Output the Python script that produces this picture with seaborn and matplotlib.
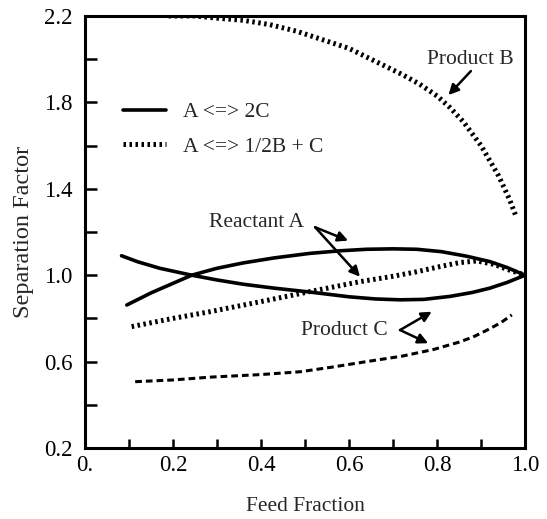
import numpy as np
import pandas as pd
import matplotlib
matplotlib.use("Agg")
import matplotlib.pyplot as plt
import seaborn as sns

# values
# A <=> 1/2B + C, product B (dotted)
prodB_x = [0.19, 0.25, 0.30, 0.36, 0.42, 0.48, 0.54, 0.60, 0.66, 0.72, 0.76, 0.80, 0.83, 0.86, 0.90, 0.94, 0.965, 0.98]
prodB_y = [2.20, 2.20, 2.19, 2.18, 2.16, 2.13, 2.09, 2.05, 1.99, 1.93, 1.885, 1.83, 1.775, 1.71, 1.60, 1.46, 1.35, 1.27]

# A <=> 2C, reactant A (solid)
reacA_2c_x = [0.095, 0.15, 0.2425, 0.30, 0.36, 0.43, 0.511, 0.58, 0.64, 0.70, 0.754, 0.81, 0.867, 0.92, 0.96, 1.0]
reacA_2c_y = [0.862, 0.918, 1.0, 1.032, 1.057, 1.08, 1.101, 1.113, 1.12, 1.122, 1.12, 1.109, 1.088, 1.063, 1.035, 1.0]

# A <=> 2C, product C (solid)
prodC_2c_x = [0.083, 0.12, 0.17, 0.2425, 0.30, 0.36, 0.43, 0.511, 0.60, 0.66, 0.716, 0.77, 0.83, 0.88, 0.92, 0.96, 1.0]
prodC_2c_y = [1.09, 1.062, 1.032, 1.0, 0.978, 0.958, 0.94, 0.922, 0.9, 0.89, 0.886, 0.888, 0.902, 0.92, 0.94, 0.967, 1.0]

# A <=> 1/2B + C, reactant A (dotted)
reacA_bc_x = [0.106, 0.2, 0.284, 0.398, 0.511, 0.625, 0.70, 0.754, 0.807, 0.85, 0.89, 0.93, 0.96, 1.0]
reacA_bc_y = [0.762, 0.80, 0.831, 0.877, 0.924, 0.97, 0.995, 1.016, 1.04, 1.058, 1.066, 1.05, 1.027, 1.0]

# A <=> 1/2B + C, product C (dashed)
prodC_bc_x = [0.114, 0.2, 0.284, 0.40, 0.489, 0.56, 0.64, 0.72, 0.792, 0.85, 0.882, 0.913, 0.945, 0.97]
prodC_bc_y = [0.507, 0.515, 0.528, 0.54, 0.553, 0.574, 0.60, 0.625, 0.656, 0.69, 0.714, 0.745, 0.78, 0.816]

legend_labels = ["A <=> 2C", "A <=> 1/2B + C"]
xtick_vals = [0.0, 0.2, 0.4, 0.6, 0.8, 1.0]
xtick_labels = ["0.", "0.2", "0.4", "0.6", "0.8", "1.0"]
ytick_vals = [0.2, 0.6, 1.0, 1.4, 1.8, 2.2]

sns.set_style("ticks")
plt.rcParams["font.family"] = ["Liberation Serif", "DejaVu Serif"]
FS = 15.5

fig = plt.figure(figsize=(5.47, 5.19), dpi=100)
ax = fig.add_axes([0.1554, 0.1368, 0.8044, 0.8324])

dotted = (0, (0.5, 0.7))
dashed = (0, (2.2, 1.3))

sns.lineplot(x=reacA_2c_x, y=reacA_2c_y, ax=ax, color="black", lw=2.6,
             estimator=None, label=legend_labels[0])
sns.lineplot(x=prodB_x, y=prodB_y, ax=ax, color="black", lw=3.6, linestyle=dotted,
             estimator=None, label=legend_labels[1])
sns.lineplot(x=prodC_2c_x, y=prodC_2c_y, ax=ax, color="black", lw=2.6,
             estimator=None, label="_nolegend_")
sns.lineplot(x=reacA_bc_x, y=reacA_bc_y, ax=ax, color="black", lw=3.6, linestyle=dotted,
             estimator=None, label="_nolegend_")
sns.lineplot(x=prodC_bc_x, y=prodC_bc_y, ax=ax, color="black", lw=2.2, linestyle=dashed,
             estimator=None, label="_nolegend_")

ax.set_xlim(0, 1.0)
ax.set_ylim(0.2, 2.2)
ax.set_xticks(xtick_vals)
ax.set_xticklabels(xtick_labels)
ax.set_xticks([0.1, 0.3, 0.5, 0.7, 0.9], minor=True)
ax.set_yticks(ytick_vals)
ax.set_yticklabels([f"{v:.1f}" for v in ytick_vals])
ax.set_yticks([0.4, 0.8, 1.2, 1.6, 2.0], minor=True)

ax.tick_params(axis="both", which="both", direction="in", width=1.8, colors="black",
               labelsize=16.5, top=False, right=False)
ax.tick_params(axis="y", which="both", length=8.5, pad=9)
ax.tick_params(axis="x", which="both", length=6.5, pad=5)
for s in ax.spines.values():
    s.set_linewidth(2.2)
    s.set_color("black")

ax.set_xlabel("Feed Fraction", fontsize=FS, labelpad=15)
ax.set_ylabel("Separation Factor", fontsize=17.5, labelpad=7)

leg = ax.legend(loc="upper left", bbox_to_anchor=(0.086, 0.80), frameon=False,
                fontsize=FS, handlelength=2.0, handletextpad=0.8, labelspacing=0.65,
                borderpad=0, borderaxespad=0)

# labels and arrows
arrow = dict(arrowstyle="-|>", color="black", lw=1.8, mutation_scale=15, shrinkA=0, shrinkB=0)
ax.text(0.875, 2.0, "Product B", fontsize=FS, ha="center", va="center")
ax.annotate("", xy=(0.826, 1.834), xytext=(0.877, 1.945), arrowprops=arrow)

ax.text(0.39, 1.243, "Reactant A", fontsize=FS, ha="center", va="center")
ax.annotate("", xy=(0.598, 1.16), xytext=(0.523, 1.222), arrowprops=arrow)
ax.annotate("", xy=(0.625, 0.993), xytext=(0.523, 1.222), arrowprops=arrow)

ax.text(0.59, 0.742, "Product C", fontsize=FS, ha="center", va="center")
ax.annotate("", xy=(0.788, 0.831), xytext=(0.716, 0.746), arrowprops=arrow)
ax.annotate("", xy=(0.78, 0.685), xytext=(0.716, 0.746), arrowprops=arrow)

fig.savefig("out.png", dpi=100)
